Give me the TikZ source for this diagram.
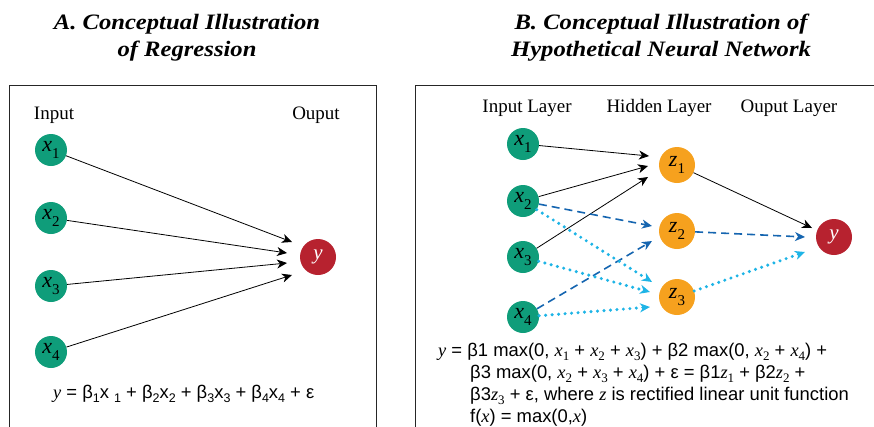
\documentclass[tikz,border=0pt]{standalone}
\usepackage{fontspec}
\setmainfont{Liberation Serif}
\newfontfamily\ttlfont[FakeStretch=1.12]{Liberation Serif}
\newfontfamily\eqfont{Liberation Sans}
\usetikzlibrary{arrows.meta,calc}
\definecolor{cgreen}{HTML}{0F9D7A}
\definecolor{cred}{HTML}{B7222F}
\definecolor{corange}{HTML}{F6A11E}
\definecolor{cdblue}{HTML}{1565B0}
\definecolor{clblue}{HTML}{1EB4E6}
\newcommand\cx[2]{\textit{#1}\raisebox{-0.3em}{\fontsize{15}{15}\selectfont #2}}
\newcommand\sv[1]{{\rmfamily\itshape #1}}
\newcommand\ssb[1]{\raisebox{-0.25em}{\rmfamily\fontsize{13}{13}\selectfont #1}}
\newcommand\asb[1]{\raisebox{-0.25em}{\fontsize{12.5}{12.5}\selectfont #1}}
\begin{document}
\begin{tikzpicture}[x=1pt,y=-1pt,
  inp/.style={circle, fill=cgreen, minimum size=32pt, inner sep=0pt, font=\fontsize{22}{22}\selectfont},
  hid/.style={circle, fill=corange, minimum size=36pt, inner sep=0pt, font=\fontsize{22}{22}\selectfont},
  outn/.style={circle, fill=cred, minimum size=36pt, inner sep=0pt, text=white, font=\fontsize{21}{21}\selectfont\itshape},
  lbl/.style={anchor=base, inner sep=0pt, font=\fontsize{19}{19}\selectfont},
  ttl/.style={anchor=base, inner sep=0pt, font=\ttlfont\fontsize{22}{22}\selectfont\bfseries\itshape},
  eq/.style={anchor=base west, inner sep=0pt, font=\eqfont\fontsize{18.4}{18.4}\selectfont},
  con/.style={-{Stealth[length=10pt,width=9pt,inset=3pt]}, line width=0.8pt},
  dsh/.style={con, cdblue, dash pattern=on 8pt off 5pt, line width=1.6pt},
  dtt/.style={con, clblue, line width=3.4pt, dash pattern=on 0pt off 6.5pt, line cap=round},
  frame/.style={line width=1pt, draw=black!85}]
\useasboundingbox (0,0) rectangle (874,426);
% titles
\node[ttl] (tA1) at (187,29) {A. Conceptual Illustration};
\node[ttl] (tA2) at (187,56) {of Regression};
\node[ttl] (tB1) at (661,29) {B. Conceptual Illustration of};
\node[ttl] (tB2) at (661,56) {Hypothetical Neural Network};
% frames
\draw[frame] (9,430) -- (9,85) -- (376,85) -- (376,430);
\draw[frame] (415,430) -- (415,85) -- (880,85);
% panel A
\node[lbl] (inA) at (54,119) {Input};
\node[lbl] (outA) at (316,119) {Ouput};
\node[inp] (a1) at (51,150) {\cx{x}{1}};
\node[inp] (a2) at (51,218) {\cx{x}{2}};
\node[inp] (a3) at (51,286) {\cx{x}{3}};
\node[inp] (a4) at (51,352) {\cx{x}{4}};
\node[outn] (ya) at (318,257) {y};
\draw[con] (a1) -- ($(ya)+(-26,-15)$);
\draw[con] (a2) -- ($(ya)+(-31,-4)$);
\draw[con] (a3) -- ($(ya)+(-31,6)$);
\draw[con] (a4) -- ($(ya)+(-26,18)$);
\node[eq] (eqA) at (53,398) {\sv{y} = β\asb{1}x \asb{1} + β\asb{2}x\asb{2} + β\asb{3}x\asb{3} + β\asb{4}x\asb{4} + ε};
% panel B
\node[lbl] (inB) at (527,112) {Input Layer};
\node[lbl] (hidB) at (659,112) {Hidden Layer};
\node[lbl] (outB) at (789,112) {Ouput Layer};
\node[inp] (b1) at (523,144) {\cx{x}{1}};
\node[inp] (b2) at (523,201) {\cx{x}{2}};
\node[inp] (b3) at (523,257) {\cx{x}{3}};
\node[inp] (b4) at (523,317) {\cx{x}{4}};
\node[hid] (z1) at (677,165) {\cx{z}{1}};
\node[hid] (z2) at (677,231) {\cx{z}{2}};
\node[hid] (z3) at (677,297) {\cx{z}{3}};
\node[outn] (yb) at (834,237) {y};
\draw[con] (b1) -- ($(z1)+(-28,-9)$);
\draw[con] (b2) -- ($(z1)+(-29,1)$);
\draw[con] (b3) -- ($(z1)+(-29,12)$);
\draw[con] (z1) -- ($(yb)+(-22,-9)$);
\draw[dsh] (b2) -- ($(z2)+(-25,-5)$);
\draw[dsh] (b4) -- ($(z2)+(-25,10)$);
\draw[dsh] (z2) -- ($(yb)+(-29,0)$);
\draw[dtt] (b2) -- ($(z3)+(-25,-15)$);
\draw[dtt] (b3) -- ($(z3)+(-27,-5)$);
\draw[dtt] (b4) -- ($(z3)+(-27,10)$);
\draw[dtt] (z3) -- ($(yb)+(-29,15)$);
\node[eq] (eqB1) at (438,356) {\sv{y} = β1 max(0, \sv{x}\ssb{1} + \sv{x}\ssb{2} + \sv{x}\ssb{3}) + β2 max(0, \sv{x}\ssb{2} + \sv{x}\ssb{4}) +};
\node[eq] (eqB2) at (470,378) {β3 max(0, \sv{x}\ssb{2} + \sv{x}\ssb{3} + \sv{x}\ssb{4}) + ε = β1\sv{z}\ssb{1} + β2\sv{z}\ssb{2} +};
\node[eq] (eqB3) at (470,400) {β3\sv{z}\ssb{3} + ε, where \sv{z} is rectified linear unit function};
\node[eq] (eqB4) at (470,422) {f(\sv{x}) = max(0,\sv{x})};
\end{tikzpicture}
\end{document}
